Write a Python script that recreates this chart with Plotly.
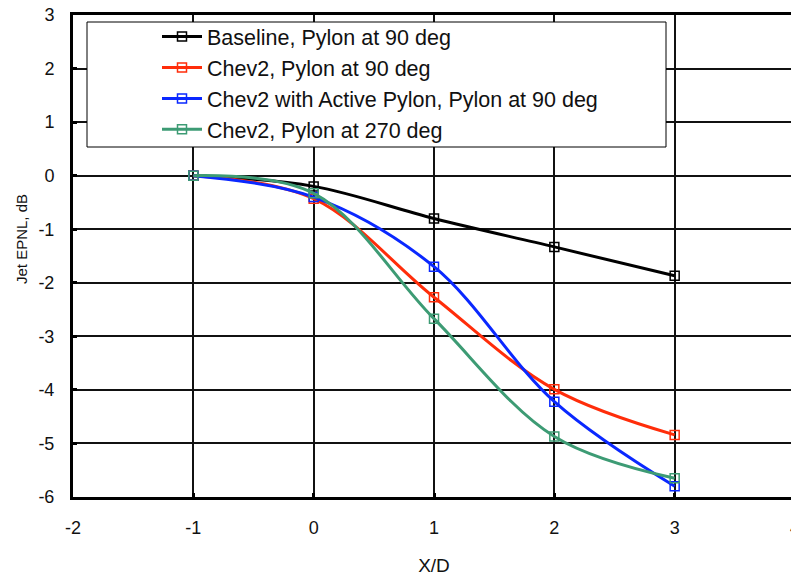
import plotly.graph_objects as go

x_vals = [-1, 0, 1, 2, 3]
baseline = [0.0, -0.20, -0.80, -1.33, -1.87]
chev2_90 = [0.0, -0.43, -2.27, -3.99, -4.84]
chev2_active = [0.0, -0.40, -1.70, -4.22, -5.80]
chev2_270 = [0.0, -0.33, -2.67, -4.87, -5.65]

x_ticks = [-2, -1, 0, 1, 2, 3, 4]
x_ticklabels = ["-2", "-1", "0", "1", "2", "3", "4"]
y_ticks = [-6, -5, -4, -3, -2, -1, 0, 1, 2, 3]
y_ticklabels = ["-6", "-5", "-4", "-3", "-2", "-1", "0", "1", "2", "3"]

names = [
    "Baseline, Pylon at 90 deg",
    "Chev2, Pylon at 90 deg",
    "Chev2 with Active Pylon, Pylon at 90 deg",
    "Chev2, Pylon at 270 deg",
]
series = [baseline, chev2_90, chev2_active, chev2_270]
colors = ["#000000", "#ff2d0a", "#0a28ff", "#3d9b74"]

fig = go.Figure()
for i, (nm, ys, c) in enumerate(zip(names, series, colors)):
    fig.add_trace(go.Scatter(
        x=x_vals, y=ys, name=nm, mode="lines+markers",
        line=dict(color=c, width=3, shape="spline", smoothing=1.0),
        marker=dict(symbol="square-open", size=9, color=c, line=dict(width=1.5, color=c)),
        legendgroup=f"g{i}",
    ))

# screen-pixel layout (page body adds an 8px offset)
OFF = 8
L, R, T, B = 73, 795, 15, 497
W, H = 799, 573
pw, ph = R - L, B - T

def px(x):
    return (x - L) / pw

def py(y):
    return (B - y) / ph

fig.add_shape(type="rect", xref="paper", yref="paper",
              x0=px(87), x1=px(666), y0=py(147), y1=py(22),
              line=dict(color="#000000", width=1), fillcolor="white", layer="above")

FONT = "Liberation Sans, Arial, sans-serif"
axis_common = dict(
    showline=True, linecolor="#000000", linewidth=3, mirror=True,
    showgrid=True, gridcolor="#111111", gridwidth=1.5,
    zeroline=False, ticks="inside", ticklen=4, tickwidth=3, tickcolor="#000000",
    tickfont=dict(family=FONT, size=18, color="#111111"),
    automargin=False, ticklabeloverflow="allow",
)

fig.add_annotation(text="Jet EPNL, dB", xref="paper", yref="paper",
                   x=px(21), y=py(239), xanchor="center", yanchor="middle",
                   textangle=-90, showarrow=False,
                   font=dict(family=FONT, size=15, color="#111111"))

fig.update_layout(
    width=W, height=H,
    margin=dict(l=L - OFF, r=W - (R - OFF), t=T - OFF, b=H - (B - OFF)),
    paper_bgcolor="white", plot_bgcolor="white",
    font=dict(family=FONT, color="#111111"),
    xaxis=dict(range=[-2, 4], tickmode="array", tickvals=x_ticks, ticktext=x_ticklabels,
               title=dict(text="X/D", font=dict(size=19), standoff=23),
               ticklabelstandoff=12, **axis_common),
    yaxis=dict(range=[-6, 3], tickmode="array", tickvals=y_ticks, ticktext=y_ticklabels,
               ticklabelstandoff=12, **axis_common),
    showlegend=True,
    legend=dict(x=px(157), y=py(16), xanchor="left", yanchor="top",
                bgcolor="rgba(0,0,0,0)", borderwidth=0,
                font=dict(size=21.5, color="#111111"),
                tracegroupgap=0, traceorder="grouped", itemwidth=40),
)

fig.write_html("out.html")
